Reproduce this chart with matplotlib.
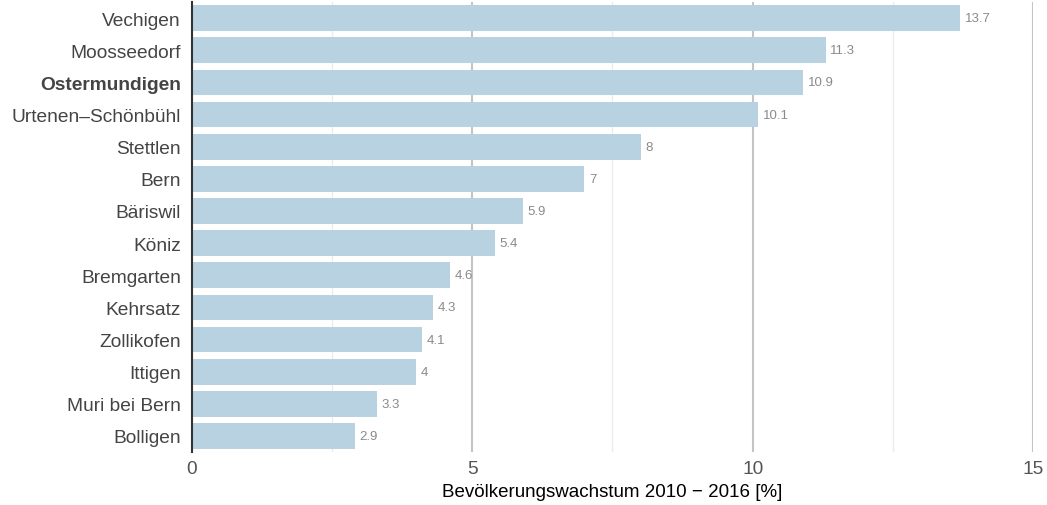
import numpy as np
import matplotlib
matplotlib.use('Agg')
import matplotlib.pyplot as plt
from matplotlib.ticker import MultipleLocator

plt.rcParams['font.family'] = ['Liberation Sans', 'DejaVu Sans']

gemeinden = ['Vechigen', 'Moosseedorf', 'Ostermundigen', 'Urtenen\u2013Schönbühl', 'Stettlen',
             'Bern', 'Bäriswil', 'Köniz', 'Bremgarten', 'Kehrsatz', 'Zollikofen', 'Ittigen',
             'Muri bei Bern', 'Bolligen']
wachstum = [13.7, 11.3, 10.9, 10.1, 8, 7, 5.9, 5.4, 4.6, 4.3, 4.1, 4, 3.3, 2.9]
hervorheben = 'Ostermundigen'

fig = plt.figure(figsize=(10.47, 5.06), dpi=100)
ax = fig.add_axes([0.1834, 0.1047, 0.8032, 0.8893])

y = np.arange(len(gemeinden))
ax.barh(y, wachstum, height=0.8, color='#b9d2e1', zorder=2)
for yi, v in zip(y, wachstum):
    ax.text(v + 0.08, yi, f'{v:g}', va='center', ha='left', fontsize=9.5, color='#8a8a8a')

ax.set_xlim(0, 15)
ax.set_ylim(len(gemeinden) - 0.5, -0.5)
ax.set_yticks(y)
ax.set_yticklabels(gemeinden, fontsize=13.8, color='#444444')
for lbl in ax.get_yticklabels():
    if lbl.get_text() == hervorheben:
        lbl.set_fontweight('bold')

ax.xaxis.set_major_locator(MultipleLocator(5))
ax.xaxis.set_minor_locator(MultipleLocator(2.5))
ax.grid(which='major', axis='x', color='#c4c4c4', linewidth=1.5, zorder=0)
ax.grid(which='minor', axis='x', color='#ebebeb', linewidth=1.0, zorder=0)
ax.tick_params(axis='both', which='both', length=0)
ax.tick_params(axis='x', labelsize=13.8, labelcolor='#555555', pad=6)
ax.tick_params(axis='y', pad=8)

for s in ['top', 'right', 'bottom']:
    ax.spines[s].set_visible(False)
ax.spines['left'].set_color('#333333')
ax.spines['left'].set_linewidth(1.5)

ax.set_xlabel('Bevölkerungswachstum 2010 \u2212 2016 [%]', fontsize=13.5, color='black', labelpad=4)

fig.savefig('out.png', dpi=100)
